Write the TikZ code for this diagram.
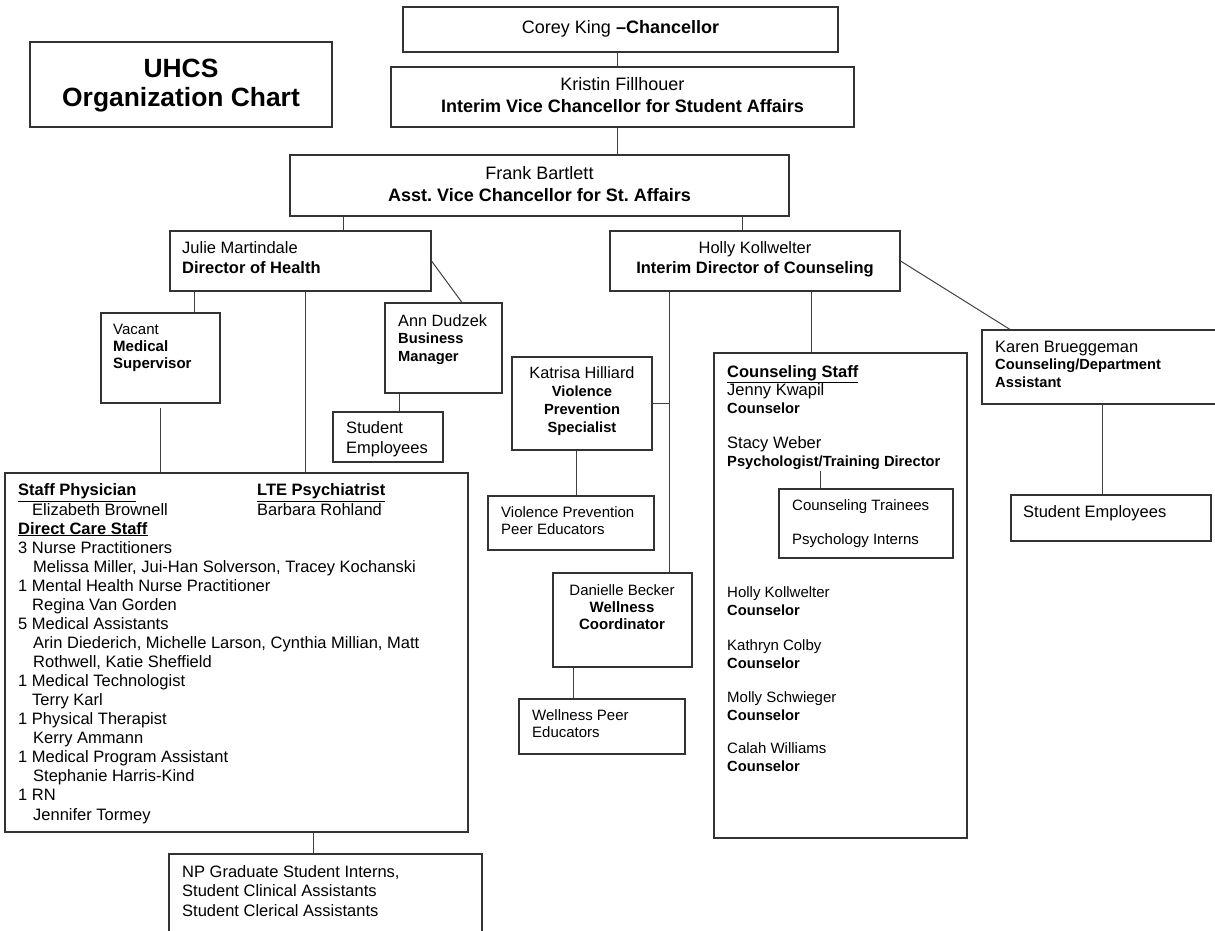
\documentclass[tikz,border=0pt]{standalone}
\usepackage{fontspec}
\setmainfont{Liberation Sans}
\frenchspacing

\newcommand{\rolesm}[1]{{\fontsize{14.7}{17.7}\selectfont\bfseries #1}}
\newcommand{\headul}[1]{\underline{\textbf{#1}}}

\tikzset{
  box/.style={draw=black!80, line width=1.1pt, inner sep=0pt},
  link/.style={draw=black!75, line width=1pt},
  txt/.style={inner sep=0pt, anchor=base west, align=left},
  ctxt/.style={inner sep=0pt, anchor=base, align=center},
  topf/.style={font=\fontsize{18}{21.5}\selectfont},
  medf/.style={font=\fontsize{16.5}{19.06}\selectfont},
  smallf/.style={font=\fontsize{15}{17}\selectfont},
}

\begin{document}
\begin{tikzpicture}[x=1pt, y=-1pt]
  \useasboundingbox (0,0) rectangle (1215,930);
  \clip (0,0) rectangle (1215,930);

  % boxes
  \node[box, minimum width=302pt, minimum height=85pt] (title) at (181,84.5) {};
  \node[box, minimum width=435pt, minimum height=45pt] (chanc) at (620.5,29.5) {};
  \node[box, minimum width=463pt, minimum height=60pt] (vc) at (622.5,97) {};
  \node[box, minimum width=499pt, minimum height=61pt] (avc) at (539.5,185.5) {};
  \node[box, minimum width=261pt, minimum height=60pt] (health) at (300.5,261) {};
  \node[box, minimum width=290pt, minimum height=60pt] (couns) at (755,261) {};
  \node[box, minimum width=119pt, minimum height=90pt] (vacant) at (160.5,358) {};
  \node[box, minimum width=117pt, minimum height=90pt] (ann) at (443.5,348) {};
  \node[box, minimum width=110pt, minimum height=50pt] (hstud) at (388,437) {};
  \node[box, minimum width=463pt, minimum height=359pt] (staff) at (236.5,652.5) {};
  \node[box, minimum width=313pt, minimum height=106pt] (np) at (325.5,907) {};
  \node[box, minimum width=140pt, minimum height=93pt] (vps) at (582,403.5) {};
  \node[box, minimum width=166pt, minimum height=54pt] (vpeer) at (571,523) {};
  \node[box, minimum width=139pt, minimum height=94pt] (well) at (622.5,620) {};
  \node[box, minimum width=166pt, minimum height=55pt] (wpeer) at (602,726.5) {};
  \node[box, minimum width=253pt, minimum height=485pt] (cstaff) at (840.5,595.5) {};
  \node[box, minimum width=174pt, minimum height=69pt] (train) at (866,523.5) {};
  \node[box, minimum width=278pt, minimum height=74pt] (karen) at (1121,367) {};
  \node[box, minimum width=200pt, minimum height=46pt] (cstud) at (1111,518) {};

  % texts (placed at the baseline of their last line)
  \node[ctxt, font=\fontsize{26.4}{29}\selectfont\bfseries] (title-t) at (181,106) {UHCS\\Organization Chart};
  \node[ctxt, topf] (chanc-t) at (620.5,33) {Corey King \textbf{–Chancellor}};
  \node[ctxt, topf] (vc-t) at (622.5,112) {Kristin Fillhouer\\\textbf{Interim Vice Chancellor for Student Affairs}};
  \node[ctxt, topf] (avc-t) at (539.5,201) {Frank Bartlett\\\textbf{Asst. Vice Chancellor for St. Affairs}};
  \node[txt, font=\fontsize{16.5}{20}\selectfont] (health-t) at (182,273) {Julie Martindale\\\textbf{Director of Health}};
  \node[ctxt, font=\fontsize{16.5}{20}\selectfont] (couns-t) at (755,273) {Holly Kollwelter\\\textbf{Interim Director of Counseling}};
  \node[txt, smallf] (vacant-t) at (113,368) {Vacant\\\textbf{Medical}\\\textbf{Supervisor}};
  \node[txt, font=\fontsize{16.3}{17.5}\selectfont] (ann-t) at (398,361) {Ann Dudzek\\\rolesm{Business}\\\rolesm{Manager}};
  \node[txt, medf] (hstud-t) at (346,453) {Student\\Employees};
  \node[txt, medf] (staff-t) at (18,820) {\headul{Staff Physician}\\
    \hspace*{14pt}Elizabeth Brownell\\
    \headul{Direct Care Staff}\\
    3 Nurse Practitioners\\
    \hspace*{15pt}Melissa Miller, Jui-Han Solverson, Tracey Kochanski\\
    1 Mental Health Nurse Practitioner\\
    \hspace*{14pt}Regina Van Gorden\\
    5 Medical Assistants\\
    \hspace*{15pt}Arin Diederich, Michelle Larson, Cynthia Millian, Matt\\
    \hspace*{15pt}Rothwell, Katie Sheffield\\
    1 Medical Technologist\\
    \hspace*{14pt}Terry Karl\\
    1 Physical Therapist\\
    \hspace*{15pt}Kerry Ammann\\
    1 Medical Program Assistant\\
    \hspace*{15pt}Stephanie Harris-Kind\\
    1 RN\\
    \hspace*{15pt}Jennifer Tormey};
  \node[txt, medf] (lte-t) at (257,515) {\headul{LTE Psychiatrist}\\Barbara Rohland};
  \node[txt, medf] (np-t) at (182,916) {NP Graduate Student Interns,\\Student Clinical Assistants\\Student Clerical Assistants};
  \node[ctxt, font=\fontsize{16.3}{17.7}\selectfont] (vps-t) at (582,432) {Katrisa Hilliard\\\rolesm{Violence}\\\rolesm{Prevention}\\\rolesm{Specialist}};
  \node[txt, smallf] (vpeer-t) at (501,534) {Violence Prevention\\Peer Educators};
  \node[ctxt, smallf] (well-t) at (622,629) {Danielle Becker\\\textbf{Wellness}\\\textbf{Coordinator}};
  \node[txt, smallf] (wpeer-t) at (532,737) {Wellness Peer\\Educators};
  \node[txt, font=\fontsize{16.5}{18}\selectfont] (cstaff-t) at (727,413) {\headul{Counseling Staff}\\Jenny Kwapil\\\rolesm{Counselor}};
  \node[txt, font=\fontsize{16.5}{18}\selectfont] (stacy-t) at (727,466) {Stacy Weber\\\rolesm{Psychologist/Training Director}};
  \node[txt, font=\fontsize{15}{34}\selectfont] (train-t) at (792,544) {Counseling Trainees\\Psychology Interns};
  \node[txt, font=\fontsize{15}{18}\selectfont] (holly-t) at (727,615) {Holly Kollwelter\\\rolesm{Counselor}};
  \node[txt, font=\fontsize{15}{17.5}\selectfont] (kathryn-t) at (727,668) {Kathryn Colby\\\rolesm{Counselor}};
  \node[txt, font=\fontsize{15}{17.5}\selectfont] (molly-t) at (727,720) {Molly Schwieger\\\rolesm{Counselor}};
  \node[txt, font=\fontsize{15}{18}\selectfont] (calah-t) at (727,771) {Calah Williams\\\rolesm{Counselor}};
  \node[txt, font=\fontsize{16.5}{17.5}\selectfont] (karen-t) at (995,387) {Karen Brueggeman\\\rolesm{Counseling/Department}\\\rolesm{Assistant}};
  \node[txt, medf] (cstud-t) at (1023,517) {Student Employees};

  % connectors
  \coordinate (c-chanc) at ([xshift=-3.5pt]chanc.south);
  \draw[link] (c-chanc) -- (c-chanc |- vc.north);
  \coordinate (c-vc) at ([xshift=-5.5pt]vc.south);
  \draw[link] (c-vc) -- (c-vc |- avc.north);
  \coordinate (c-health) at ([xshift=42.5pt]health.north);
  \draw[link] (c-health |- avc.south) -- (c-health);
  \coordinate (c-couns) at ([xshift=-13pt]couns.north);
  \draw[link] (c-couns |- avc.south) -- (c-couns);
  \coordinate (c-vacant) at ([xshift=33.5pt]vacant.north);
  \draw[link] (c-vacant |- health.south) -- (c-vacant);
  \coordinate (c-staff) at ([xshift=4.5pt]health.south);
  \draw[link] (c-staff) -- (c-staff |- staff.north);
  \draw[link] (health.east) -- ([xshift=18.5pt]ann.north);
  \draw[link] ([yshift=-4pt]vacant.south) -- (vacant.south |- staff.north);
  \coordinate (c-ann) at ([xshift=-44.5pt]ann.south);
  \draw[link] (c-ann) -- (c-ann |- hstud.north);
  \coordinate (c-np) at ([xshift=-12.5pt]np.north);
  \draw[link] (c-np |- staff.south) -- (c-np);
  \coordinate (spine) at ([xshift=-86pt]couns.south);
  \draw[link] (spine) -- (spine |- well.north);
  \draw[link] (vps.east) -- (vps.east -| spine);
  \coordinate (c-vps) at ([xshift=-6pt]vps.south);
  \draw[link] (c-vps) -- (c-vps |- vpeer.north);
  \coordinate (c-well) at ([xshift=-49.5pt]well.south);
  \draw[link] (c-well) -- (c-well |- wpeer.north);
  \coordinate (c-cstaff) at ([xshift=56pt]couns.south);
  \draw[link] (c-cstaff) -- (c-cstaff |- cstaff.north);
  \draw[link] (couns.east) -- ([xshift=-111pt]karen.north);
  \coordinate (c-cstud) at ([xshift=-9pt]cstud.north);
  \draw[link] (c-cstud |- karen.south) -- (c-cstud);
  \coordinate (c-train) at ([xshift=-46pt]train.north);
  \draw[link] (c-train) -- ([yshift=17pt]c-train);
\end{tikzpicture}
\end{document}
